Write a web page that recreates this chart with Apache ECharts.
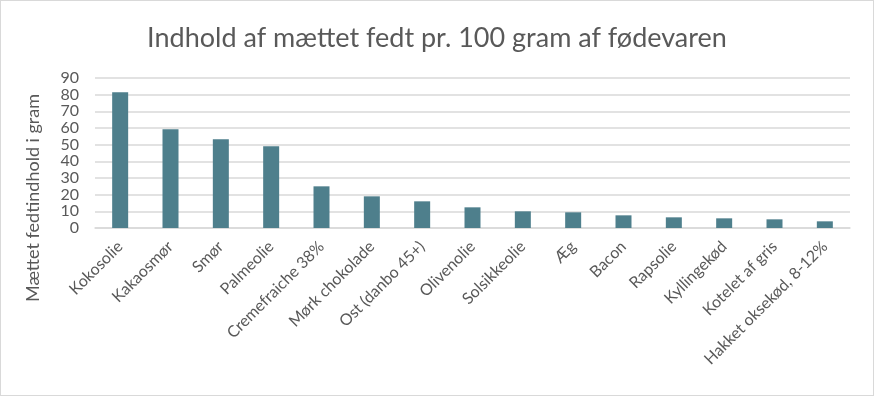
<!DOCTYPE html>
<html>
<head>
    <meta charset="utf-8">
    <style>
        body { margin: 0; background: #fff; }
        #main { width: 872px; height: 394px; border: 1px solid #d9d9d9; }
    </style>
</head>
<body>
<div id="main"></div>
<script src="https://cdn.jsdelivr.net/npm/echarts@6/dist/echarts.min.js"></script>
<script type="text/javascript">
    // fødevarer og mættet fedt (g pr. 100 g)
    var categories = ['Kokosolie', 'Kakaosmør', 'Smør', 'Palmeolie', 'Cremefraiche 38%', 'Mørk chokolade',
        'Ost (danbo 45+)', 'Olivenolie', 'Solsikkeolie', 'Æg', 'Bacon', 'Rapsolie', 'Kyllingekød',
        'Kotelet af gris', 'Hakket oksekød, 8-12%'];
    var values = [81.5, 59.2, 53.2, 49, 25, 19, 16, 12.4, 10, 9.4, 7.6, 6.4, 5.8, 5.2, 4];
    var yTicks = [0, 90, 10];

    var textColor = '#595959';
    var fontFamily = 'Lato, "Open Sans", sans-serif';

    var option = {
        animation: false,
        title: {
            text: 'Indhold af mættet fedt pr. 100 gram af fødevaren',
            left: 'center',
            top: 19,
            textStyle: { color: textColor, fontSize: 27, fontWeight: 'normal', fontFamily: fontFamily }
        },
        // y-aksens titel er centreret lavere end plotområdet
        graphic: [{
            type: 'text',
            left: 23,
            top: 'middle',
            rotation: Math.PI / 2,
            style: {
                text: 'Mættet fedtindhold i gram',
                fill: textColor,
                fontSize: 18,
                fontFamily: fontFamily
            }
        }],
        grid: {
            left: 94,
            right: 23,
            top: 77,
            bottom: 167
        },
        xAxis: {
            type: 'category',
            data: categories,
            axisLine: { show: true, lineStyle: { color: '#d9d9d9', width: 1.5 } },
            axisTick: { show: false },
            axisLabel: {
                rotate: 45,
                interval: 0,
                margin: 16,
                color: textColor,
                fontSize: 16,
                fontFamily: fontFamily
            }
        },
        yAxis: {
            type: 'value',
            min: yTicks[0],
            max: yTicks[1],
            interval: yTicks[2],
            axisLine: { show: false },
            axisTick: { show: false },
            axisLabel: { color: textColor, fontSize: 16, margin: 16, fontFamily: fontFamily },
            splitLine: { lineStyle: { color: '#d9d9d9', width: 1.5 } }
        },
        series: [
            {
                type: 'bar',
                data: values,
                barWidth: 16,
                itemStyle: { color: '#4e7f8c' }
            }
        ]
    };
    var myChart = echarts.init(document.getElementById('main'));
    myChart.setOption(option);
</script>
</body>
</html>
